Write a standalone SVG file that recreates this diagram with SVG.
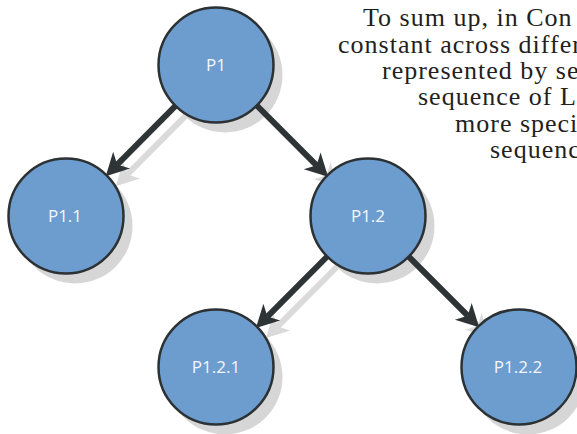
<svg xmlns="http://www.w3.org/2000/svg" width="577" height="434" viewBox="0 0 577 434">
<defs>
<style>
.node circle{fill:#6d9dcf;stroke:#2c3133;stroke-width:2.5}
.node text{font-family:"Open Sans","Noto Sans",sans-serif;font-size:17px;fill:#f3f6fb;text-anchor:middle}
.shadow{fill:#d6d6d6}
.conn{stroke:#2e3436;stroke-width:6;fill:none}
.conn-sh{stroke:#dadada;stroke-width:6;fill:none}
.cap{font-family:"Liberation Serif","Times New Roman",serif;font-size:26px;letter-spacing:1px;fill:#231f20}
</style>
<marker id="ah" markerUnits="userSpaceOnUse" markerWidth="30" markerHeight="30" refX="5" refY="0" viewBox="-2 -12 24 24" orient="auto" overflow="visible">
<path d="M18,0 L0,-9.5 L5,0 L0,9.5 Z" fill="#2e3436"/>
</marker>
<marker id="ahs" markerUnits="userSpaceOnUse" markerWidth="30" markerHeight="30" refX="5" refY="0" viewBox="-2 -12 24 24" orient="auto" overflow="visible">
<path d="M18,0 L0,-9.5 L5,0 L0,9.5 Z" fill="#dadada"/>
</marker>
</defs>
<rect width="577" height="434" fill="#ffffff"/>
<g id="caption" class="cap">
<text x="363" y="26">To sum up, in Con</text>
<text x="338" y="52.5">constant across differ</text>
<text x="382" y="79">represented by se</text>
<text x="418" y="105">sequence of LI</text>
<text x="455" y="131.5">more speci</text>
<text x="490" y="158">sequenc</text>
</g>
<g id="shadows">
<g class="conn-sh">
<line x1="185.5" y1="115.8" x2="127.2" y2="174.6" marker-end="url(#ahs)"/>
<line x1="266.8" y1="115.5" x2="326.6" y2="175.3" marker-end="url(#ahs)"/>
<line x1="337.2" y1="266.5" x2="277.4" y2="326.6" marker-end="url(#ahs)"/>
<line x1="418.7" y1="266.7" x2="477.7" y2="325.7" marker-end="url(#ahs)"/>
</g>
<circle class="shadow" cx="225" cy="75" r="57.5"/>
<circle class="shadow" cx="75" cy="226" r="57.5"/>
<circle class="shadow" cx="377" cy="226" r="57.5"/>
<circle class="shadow" cx="225" cy="377" r="57.5"/>
<circle class="shadow" cx="528" cy="377" r="57.5"/>
</g>
<g id="connectors">
<line id="e1" class="conn" x1="175.5" y1="105.8" x2="117.2" y2="164.6" marker-end="url(#ah)"/>
<line id="e2" class="conn" x1="256.8" y1="105.5" x2="316.6" y2="165.3" marker-end="url(#ah)"/>
<line id="e3" class="conn" x1="327.2" y1="256.5" x2="267.4" y2="316.6" marker-end="url(#ah)"/>
<line id="e4" class="conn" x1="408.7" y1="256.7" x2="467.7" y2="315.7" marker-end="url(#ah)"/>
</g>
<g id="P1" class="node"><circle cx="216" cy="65" r="57.5"/><text x="216" y="71">P1</text></g>
<g id="P1.1" class="node"><circle cx="66" cy="216" r="57.5"/><text x="65" y="222">P1.1</text></g>
<g id="P1.2" class="node"><circle cx="368" cy="216" r="57.5"/><text x="368" y="222">P1.2</text></g>
<g id="P1.2.1" class="node"><circle cx="216" cy="367" r="57.5"/><text x="216" y="373">P1.2.1</text></g>
<g id="P1.2.2" class="node"><circle cx="519" cy="367" r="57.5"/><text x="518" y="373">P1.2.2</text></g>
</svg>
